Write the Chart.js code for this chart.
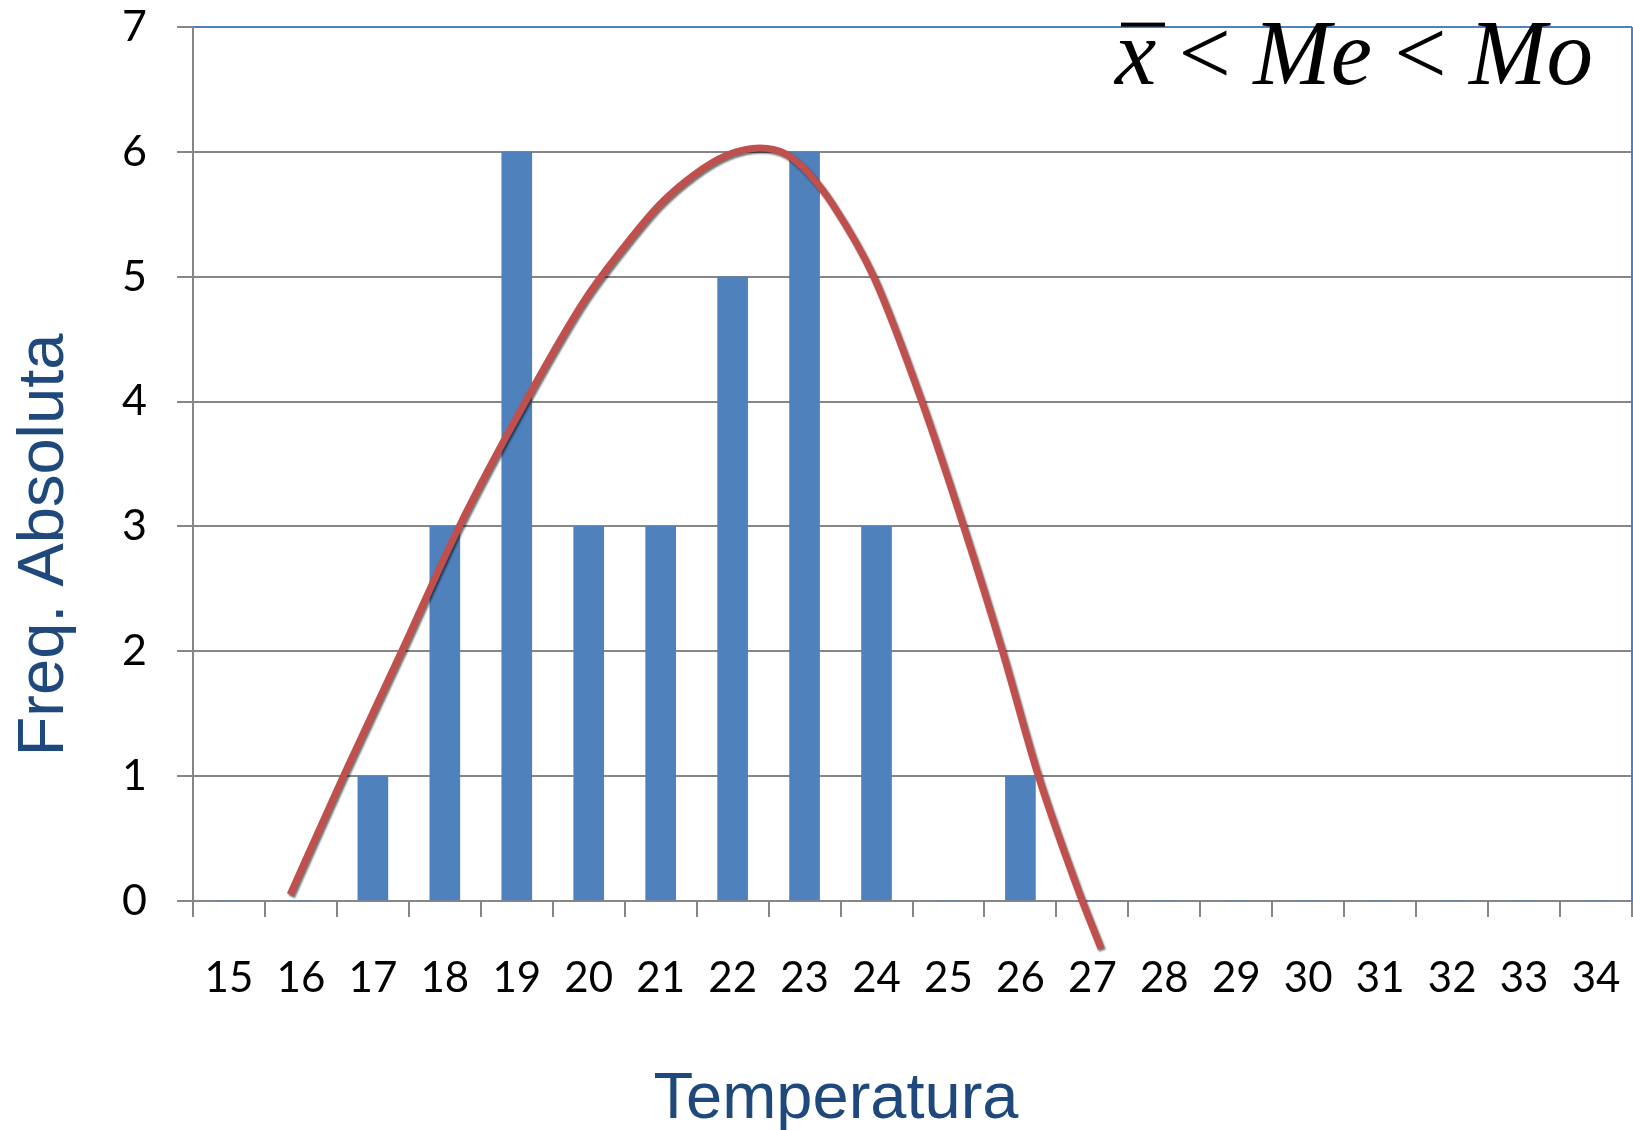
<!DOCTYPE html>
<html>
<head>
<meta charset="utf-8">
<script src="https://cdn.jsdelivr.net/npm/chart.js@4.4.1/dist/chart.umd.min.js"></script>
<style>
  html, body { margin: 0; padding: 0; background: #fff; }
  canvas { display: block; }
</style>
</head>
<body>
<canvas id="myChart" width="1633" height="1130"></canvas>
<script>
const temperatures = ['15', '16', '17', '18', '19', '20', '21', '22', '23', '24',
  '25', '26', '27', '28', '29', '30', '31', '32', '33', '34']
const frequencies = [0, 0, 1, 3, 6, 3, 3, 5, 6, 3, 0, 1, 0, 0, 0, 0, 0, 0, 0, 0]

// fitted curve (x in temperature units)
const curveX = [15.85, 16.59, 17.40, 18.20, 19.12, 19.94, 20.52, 20.99, 21.45, 21.91,
  22.38, 22.75, 23.07, 23.39, 23.96, 24.63, 25.21, 25.75, 26.25, 26.82, 27.12]
const curveY = [0.05, 1.00, 2.00, 3.00, 4.00, 4.81, 5.26, 5.58, 5.81, 5.97,
  6.03, 5.98, 5.82, 5.58, 5.00, 4.00, 3.00, 2.00, 1.00, 0.06, -0.38]

const yMin = 0
const yMax = 7

const blue = '#4F81BD'
const red = '#C0504D'
const gray = '#868686'
const titleBlue = '#1F497D'

const ctx = document.getElementById('myChart')

// shadow under the red curve
const curveShadow = {
  id: 'curveShadow',
  beforeDatasetDraw(chart, args) {
    if (args.index !== 1) return
    const c = chart.ctx
    c.save()
    c.shadowColor = 'rgba(0,0,0,0.55)'
    c.shadowOffsetX = 1.5
    c.shadowOffsetY = 2
    c.shadowBlur = 2
  },
  afterDatasetDraw(chart, args) {
    if (args.index !== 1) return
    chart.ctx.restore()
  }
}

// plot-area border on the right, axis titles and the formula
const decorations = {
  id: 'decorations',
  afterDraw(chart) {
    const c = chart.ctx
    const area = chart.chartArea
    c.save()
    c.strokeStyle = blue
    c.lineWidth = 2
    c.beginPath()
    c.moveTo(area.right, area.top)
    c.lineTo(area.right, area.bottom)
    c.stroke()

    c.fillStyle = titleBlue
    c.font = '65px "Liberation Sans", Arial, sans-serif'
    c.textAlign = 'center'
    c.textBaseline = 'alphabetic'
    c.fillText('Temperatura', 836, 1118)

    c.save()
    c.translate(63, 545)
    c.rotate(-Math.PI / 2)
    c.fillText('Freq. Absoluta', 0, 0)
    c.restore()

    // x̄ < Me < Mo
    const fs = 93
    const italic = 'italic ' + fs + 'px "Liberation Serif", "Times New Roman", serif'
    const upright = fs + 'px "Liberation Serif", "Times New Roman", serif'
    const parts = [['x', italic], ['<', upright], ['Me', italic], ['<', upright], ['Mo', italic]]
    c.fillStyle = '#000'
    c.textAlign = 'left'
    let x = 1115
    const baseline = 84
    c.font = upright
    const gap = c.measureText(' ').width - 1
    parts.forEach((p, i) => {
      c.font = p[1]
      c.fillText(p[0], x, baseline)
      if (i === 0) {
        c.fillRect(x + 6, baseline - 0.66 * fs, 44, 4)
      }
      x += c.measureText(p[0]).width + gap
    })
    c.restore()
  }
}

const noScalePadding = (scale) => {
  scale.paddingLeft = 0
  scale.paddingRight = 0
  scale.paddingTop = 0
  scale.paddingBottom = 0
}

new Chart(ctx, {
  data: {
    labels: temperatures,
    datasets: [
      {
        type: 'bar',
        label: 'Freq. Absoluta',
        data: frequencies,
        backgroundColor: blue,
        borderWidth: 0,
        grouped: false,
        barThickness: 30,
        order: 1
      },
      {
        type: 'line',
        label: 'curva',
        data: curveX.map((v, i) => ({ x: v, y: curveY[i] })),
        xAxisID: 'xl',
        borderColor: red,
        borderWidth: 7,
        borderCapStyle: 'butt',
        borderJoinStyle: 'round',
        pointRadius: 0,
        fill: false,
        cubicInterpolationMode: 'monotone',
        clip: false,
        order: 0
      }
    ]
  },
  options: {
    responsive: false,
    animation: false,
    events: [],
    layout: { padding: { left: 0, top: 27, right: 1, bottom: 0 } },
    plugins: {
      legend: { display: false },
      tooltip: { enabled: false }
    },
    scales: {
      x: {
        type: 'category',
        offset: true,
        grid: {
          offset: true,
          drawOnChartArea: false,
          drawTicks: true,
          tickLength: 16,
          tickColor: gray,
          lineWidth: 2
        },
        border: { display: true, color: gray, width: 2 },
        ticks: {
          color: '#000',
          font: { family: 'Lato', size: 42 },
          padding: 36,
          maxRotation: 0,
          autoSkip: false
        },
        afterFit(scale) {
          scale.height = 229
          noScalePadding(scale)
        }
      },
      xl: {
        type: 'linear',
        display: false,
        offset: false,
        min: 14.5,
        max: 34.5,
        afterFit: noScalePadding
      },
      y: {
        min: yMin,
        max: yMax,
        grid: {
          color: (c) => c.tick && c.tick.value === yMax ? blue : gray,
          tickColor: gray,
          lineWidth: 2,
          tickLength: 16
        },
        border: { display: true, color: gray, width: 2 },
        ticks: {
          stepSize: 1,
          color: '#000',
          font: { family: 'Lato', size: 43 },
          padding: 30
        },
        afterFit(scale) {
          scale.width = 193
          noScalePadding(scale)
        }
      }
    }
  },
  plugins: [curveShadow, decorations]
})
</script>
</body>
</html>
